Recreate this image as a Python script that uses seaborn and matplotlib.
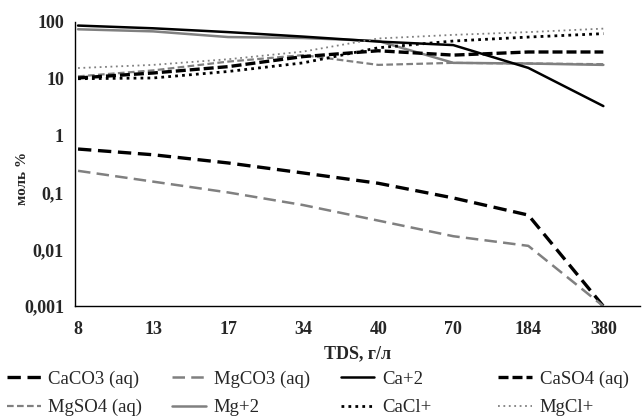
import numpy as np
import matplotlib
matplotlib.use("Agg")
import matplotlib.pyplot as plt
import seaborn as sns

# TDS categories (g/l) and species shares, mol %
tds = ["8", "13", "17", "34", "40", "70", "184", "380"]
caco3 = [0.58, 0.46, 0.33, 0.22, 0.145, 0.08, 0.04, 0.001]
mgco3 = [0.24, 0.155, 0.10, 0.06, 0.032, 0.017, 0.0115, 0.001]
ca2 = [86, 77, 66, 55, 45, 39, 15.5, 3.3]
caso4 = [10.3, 12.6, 16.3, 24.5, 31, 26, 29.5, 29.5]
mgso4 = [11, 14, 20, 26, 17.5, 19, 18.5, 18]
mg2 = [74, 68, 54, 52, 46, 19, 18.5, 17.5]
cacl = [10, 10.3, 13.4, 19, 35, 46, 54, 62]
mgcl = [15.4, 17.5, 22, 30, 51, 59, 66, 76]

x = np.arange(len(tds))
black, grey = "black", "#808080"

sns.set_theme(style="white")
plt.rcParams["font.family"] = ["Liberation Serif", "DejaVu Serif"]

fig = plt.figure(figsize=(6.44, 4.2), dpi=100)
ax = fig.add_axes([0.1165, 0.271, 0.8775, 0.677])

# pairs are the legend columns (top row, bottom row)
series = [
    ("CaCO3 (aq)", caco3, black, (0, (4, 2)), 2.4),
    ("MgSO4 (aq)", mgso4, grey, (0, (3, 1.5)), 1.6),
    ("MgCO3 (aq)", mgco3, grey, (0, (5, 2.5)), 1.8),
    ("Mg+2", mg2, grey, "-", 1.8),
    ("Ca+2", ca2, black, "-", 1.8),
    ("CaCl+", cacl, black, (0, (1, 1.5)), 2.0),
    ("CaSO4 (aq)", caso4, black, (0, (3, 1.2)), 2.4),
    ("MgCl+", mgcl, grey, (0, (1, 2)), 1.3),
]
for name, vals, col, ls, lw in series:
    sns.lineplot(x=x, y=vals, ax=ax, color=col, linestyle=ls, linewidth=lw, label=name)

ax.set_yscale("log")
ax.set_ylim(0.001, 100)
ax.set_xlim(-0.04, 7.49)
ax.set_yticks([0.001, 0.01, 0.1, 1, 10, 100])
ax.set_yticklabels(["0,001", "0,01", "0,1", "1", "10", "100"])
ax.minorticks_off()
ax.set_xticks(x)
ax.set_xticklabels(tds)
for lab in ax.get_xticklabels() + ax.get_yticklabels():
    lab.set_fontweight("bold")
    lab.set_fontsize(13)
ax.tick_params(axis="x", direction="in", length=4, width=1, color="black", pad=11)
ax.tick_params(axis="y", direction="out", length=4, width=1, color="black", pad=4)
for s in ["top", "right"]:
    ax.spines[s].set_visible(False)
for s in ["left", "bottom"]:
    ax.spines[s].set_color("black")
    ax.spines[s].set_linewidth(1)
ax.set_xlabel("TDS, г/л", fontsize=13, fontweight="bold", labelpad=5)
ax.set_ylabel("моль %", fontsize=11, fontweight="bold")
ax.yaxis.set_label_coords(-0.082, 0.45)

handles, labels = ax.get_legend_handles_labels()
ax.get_legend().remove()
# one small legend per column so the columns sit where the original has them
col_x = [0.005, 0.262, 0.523, 0.768]
for i, cx in enumerate(col_x):
    fig.legend(handles[2 * i:2 * i + 2], labels[2 * i:2 * i + 2], loc="lower left",
               bbox_to_anchor=(cx, 0.0), frameon=False,
               prop={"family": ["Liberation Serif", "DejaVu Serif"], "size": 13.5},
               handlelength=1.8, handletextpad=0.4, labelspacing=0.6,
               borderpad=0.2, borderaxespad=0)

fig.savefig("out.png", dpi=100)
